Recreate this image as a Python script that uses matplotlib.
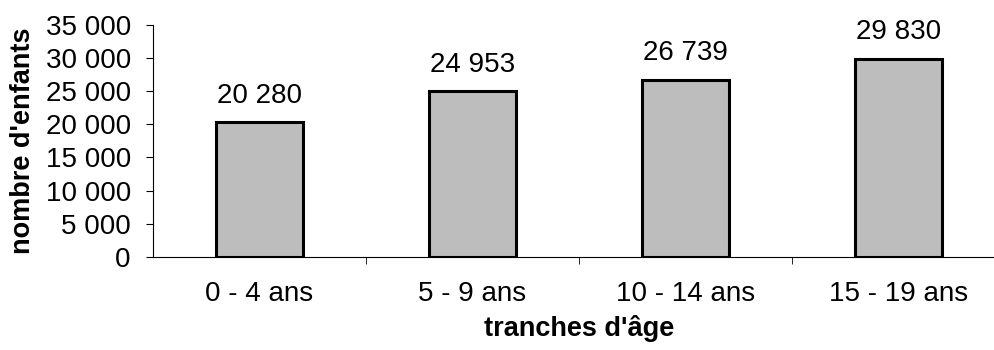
import numpy as np
import matplotlib.pyplot as plt
from matplotlib.ticker import FuncFormatter

plt.rcParams['font.family'] = ['Liberation Sans', 'DejaVu Sans']

categories = ["0 - 4 ans", "5 - 9 ans", "10 - 14 ans", "15 - 19 ans"]
values = [20280, 24953, 26739, 29830]
yticks = [0, 5000, 10000, 15000, 20000, 25000, 30000, 35000]


def fmt_space(v, pos=None):
    return f"{int(v):,}".replace(",", " ")


fig = plt.figure(figsize=(9.94, 3.5), dpi=100)
ax = fig.add_axes([0.154, 0.266, 0.857, 0.663])

x = np.arange(len(categories))
ax.bar(x, values, width=0.41, color='#bdbdbd', edgecolor='black', linewidth=2.2)

for i, v in enumerate(values):
    ax.text(i, v + 2100, fmt_space(v), ha='center', va='bottom', fontsize=20)

ax.set_xlim(-0.5, 3.5)
ax.set_ylim(0, 35000)
ax.set_yticks(yticks)
ax.yaxis.set_major_formatter(FuncFormatter(fmt_space))
ax.set_xticks(x)
ax.set_xticklabels(categories)
ax.set_xticks([0.5, 1.5, 2.5], minor=True)
ax.tick_params(axis='x', which='major', length=0, pad=17, labelsize=20)
ax.tick_params(axis='x', which='minor', length=5, direction='out')
ax.tick_params(axis='y', length=5, direction='out', labelsize=20, pad=11)

for side in ['top', 'right']:
    ax.spines[side].set_visible(False)
ax.spines['left'].set_linewidth(0.8)
ax.spines['bottom'].set_linewidth(0.8)

ax.set_ylabel("nombre d'enfants", fontsize=19.5, fontweight='bold', labelpad=7)
ax.set_xlabel("tranches d'âge", fontsize=19.5, fontweight='bold', labelpad=6)

fig.savefig("out.png", dpi=100)
